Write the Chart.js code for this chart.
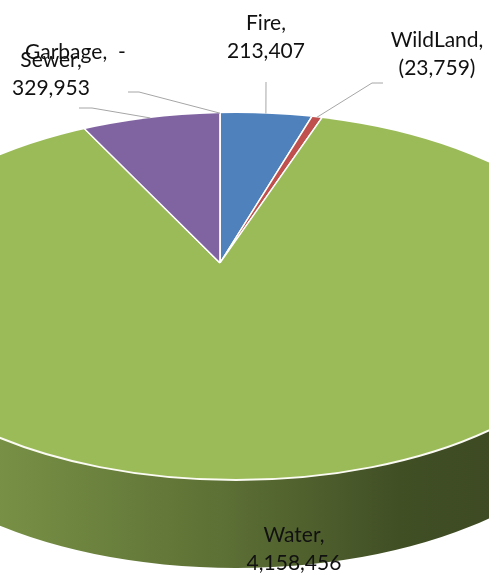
<!DOCTYPE html>
<html>
<head>
<meta charset="utf-8">
<script src="https://cdn.jsdelivr.net/npm/chart.js@4.4.1/dist/chart.umd.min.js"></script>
<style>
  html, body { margin: 0; padding: 0; background: #ffffff; }
  #wrap { width: 489px; height: 580px; position: relative; }
</style>
</head>
<body>
<div id="wrap"><canvas id="chart"></canvas></div>
<script>
// Budget by fund
const categories = ['Fire', 'WildLand', 'Water', 'Sewer', 'Garbage'];
const amounts = [213407, -23759, 4158456, 329953, 0];
const sliceColors = ['#4F81BD', '#C0504D', '#9BBB59', '#8064A2', '#F79646'];

// Tilted disc: apex of the slices, outline ellipse of the top face, tilt and thickness
const disc = { apexX: 220, apexY: 263, cx: 236, cy: 296.5, rx: 370, ry: 183.5, tilt: 0.465, depth: 88 };
const reach = 600;

// Label placement: centre x, first baseline, and leader-line knee points
const labelLayout = [
  { x: 266, y: 30, align: 'center', oneLine: false, knee: [[266, 82]] },
  { x: 437, y: 47, align: 'center', oneLine: false, knee: [[383, 83], [372, 83]] },
  { x: 294, y: 542, align: 'center', oneLine: false, knee: null },
  { x: 51, y: 67, align: 'center', oneLine: false, knee: [[79, 108], [92, 108]] },
  { x: 25, y: 59, align: 'left', oneLine: true, knee: [[128, 92], [139, 92]] }
];

function fmt(v) {
  if (v === 0) return ' -';
  const s = Math.abs(v).toLocaleString('en-US');
  return v < 0 ? '(' + s + ')' : s;
}

function shade(hex, f) {
  const n = parseInt(hex.slice(1), 16);
  const r = Math.round(((n >> 16) & 255) * f);
  const g = Math.round(((n >> 8) & 255) * f);
  const b = Math.round((n & 255) * f);
  return 'rgb(' + r + ',' + g + ',' + b + ')';
}

// Where a ray from the apex (in chart angle units) meets the rim of the top face
function rimPoint(angle) {
  const dx = Math.cos(angle), dy = Math.sin(angle) * disc.tilt;
  const ox = (disc.apexX - disc.cx) / disc.rx, oy = (disc.apexY - disc.cy) / disc.ry;
  const ux = dx / disc.rx, uy = dy / disc.ry;
  const A = ux * ux + uy * uy, B = 2 * (ox * ux + oy * uy), C = ox * ox + oy * oy - 1;
  const t = (-B + Math.sqrt(B * B - 4 * A * C)) / (2 * A);
  return { x: disc.apexX + t * dx, y: disc.apexY + t * dy };
}
function rimParam(p) {
  return Math.atan2((p.y - disc.cy) / disc.ry, (p.x - disc.cx) / disc.rx);
}

function drawSide(ctx, arc, color) {
  const p0 = rimParam(rimPoint(arc.startAngle));
  let p1 = rimParam(rimPoint(arc.endAngle));
  while (p1 <= p0) p1 += 2 * Math.PI;
  const grad = ctx.createLinearGradient(disc.cx - disc.rx, 0, disc.cx + disc.rx, 0);
  grad.addColorStop(0, shade(color, 0.9));
  grad.addColorStop(0.18, shade(color, 0.77));
  grad.addColorStop(0.48, shade(color, 0.6));
  grad.addColorStop(0.72, shade(color, 0.42));
  grad.addColorStop(1, shade(color, 0.37));
  for (const base of [0, 2 * Math.PI]) {
    const a = Math.max(p0, base), b = Math.min(p1, base + Math.PI);
    if (b <= a) continue;
    ctx.beginPath();
    ctx.ellipse(disc.cx, disc.cy, disc.rx, disc.ry, 0, a, b, false);
    ctx.ellipse(disc.cx, disc.cy + disc.depth, disc.rx, disc.ry, 0, b, a, true);
    ctx.closePath();
    ctx.fillStyle = grad;
    ctx.fill();
  }
}

const disc3d = {
  id: 'disc3d',
  beforeDatasetsDraw(chart) {
    const ctx = chart.ctx;
    const meta = chart.getDatasetMeta(0);
    ctx.save();
    meta.data.forEach((arc, i) => {
      if (arc.circumference > 0) drawSide(ctx, arc, sliceColors[i]);
    });
    ctx.beginPath();
    ctx.ellipse(disc.cx, disc.cy, disc.rx, disc.ry, 0, 0, 2 * Math.PI);
    ctx.clip();
    const ref = meta.data[0];
    const s = reach / ref.outerRadius;
    ctx.translate(disc.apexX, disc.apexY);
    ctx.scale(s, s * disc.tilt);
    ctx.translate(-ref.x, -ref.y);
  },
  afterDatasetsDraw(chart) {
    const ctx = chart.ctx;
    ctx.restore();
    const meta = chart.getDatasetMeta(0);

    // bright rim between top face and side
    ctx.save();
    ctx.beginPath();
    ctx.ellipse(disc.cx, disc.cy, disc.rx, disc.ry, 0, 0, Math.PI, false);
    ctx.strokeStyle = '#fbfbf3';
    ctx.lineWidth = 2;
    ctx.stroke();

    // leader lines
    ctx.strokeStyle = '#a6a6a6';
    ctx.lineWidth = 1;
    meta.data.forEach((arc, i) => {
      const lay = labelLayout[i];
      if (!lay.knee) return;
      const end = rimPoint((arc.startAngle + arc.endAngle) / 2);
      ctx.beginPath();
      ctx.moveTo(lay.knee[0][0], lay.knee[0][1]);
      for (let k = 1; k < lay.knee.length; k++) ctx.lineTo(lay.knee[k][0], lay.knee[k][1]);
      ctx.lineTo(end.x, end.y);
      ctx.stroke();
    });

    // data labels
    ctx.fillStyle = '#111111';
    ctx.font = '21px Lato, "Open Sans", sans-serif';
    ctx.textBaseline = 'alphabetic';
    categories.forEach((name, i) => {
      const lay = labelLayout[i];
      ctx.textAlign = lay.align;
      if (lay.oneLine) {
        ctx.fillText(name + ', ' + fmt(amounts[i]), lay.x, lay.y);
      } else {
        ctx.fillText(name + ',', lay.x, lay.y);
        ctx.fillText(fmt(amounts[i]), lay.x, lay.y + 28);
      }
    });
    ctx.restore();
  }
};

new Chart(document.getElementById('chart'), {
  type: 'pie',
  data: {
    labels: categories,
    datasets: [{
      data: amounts,
      backgroundColor: sliceColors,
      borderColor: '#ffffff',
      borderWidth: 0.7,
      clip: false
    }]
  },
  options: {
    responsive: true,
    maintainAspectRatio: false,
    animation: false,
    events: [],
    layout: { padding: 0 },
    plugins: { legend: { display: false }, tooltip: { enabled: false } }
  },
  plugins: [disc3d]
});
</script>
</body>
</html>
